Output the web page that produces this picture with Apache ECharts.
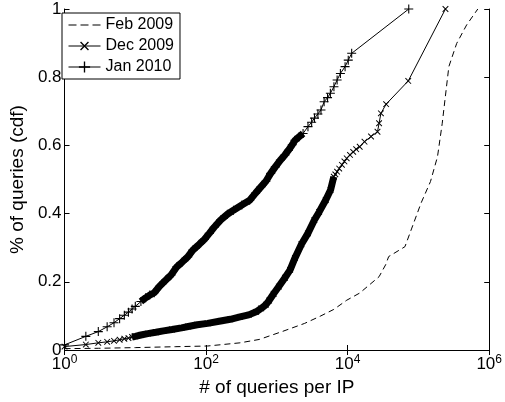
<!DOCTYPE html>
<html>
<head>
<meta charset="utf-8">
<script src="https://cdn.jsdelivr.net/npm/echarts@6/dist/echarts.min.js"></script>
<style>
  html, body { margin: 0; padding: 0; background: #fff; }
  #chart { width: 505px; height: 402px; }
</style>
</head>
<body>
<div id="chart"></div>
<script>
// values (x = queries per IP, y = cdf)
const febX = [1, 3, 10, 36.6, 105, 301, 566, 1183, 2466, 4180, 6370, 9710, 14800, 27800, 34400, 38000, 64500, 79800, 109000, 148000, 186000, 217000, 240000, 269000, 347000, 479000, 690000];
const febY = [0.004, 0.005, 0.007, 0.0097, 0.0117, 0.021, 0.031, 0.054, 0.078, 0.100, 0.119, 0.146, 0.167, 0.215, 0.25, 0.274, 0.303, 0.355, 0.431, 0.494, 0.567, 0.665, 0.743, 0.831, 0.899, 0.953, 1.0];

const decX = [1, 2, 3, 4, 5, 6, 7, 8, 9, 10, 12, 15, 19.5, 25, 33, 45, 56, 75, 105, 160, 220, 301, 400, 510, 600, 700, 776, 900, 1065, 1300, 1538, 1803, 2223, 2743, 3388, 3960, 4900, 5730, 6370, 6700, 7090, 7600, 8300, 9000, 9700, 10800, 11970, 13200, 14800, 17300, 21400, 26400, 27800, 29500, 35000, 71800, 241000];
const decY = [0.010, 0.016, 0.021, 0.024, 0.027, 0.030, 0.033, 0.035, 0.038, 0.040, 0.044, 0.048, 0.052, 0.056, 0.060, 0.065, 0.069, 0.074, 0.078, 0.085, 0.090, 0.097, 0.103, 0.112, 0.122, 0.133, 0.145, 0.165, 0.186, 0.212, 0.235, 0.270, 0.310, 0.342, 0.381, 0.405, 0.440, 0.469, 0.508, 0.515, 0.523, 0.532, 0.543, 0.553, 0.562, 0.572, 0.581, 0.589, 0.596, 0.611, 0.626, 0.640, 0.665, 0.694, 0.721, 0.789, 1.0];

const janX = [1, 2, 3, 4, 5, 6, 7, 8, 9, 10, 12, 14, 16, 18.5, 22, 27, 32, 38.6, 46, 55, 65, 80, 95, 111, 130, 160, 200, 244, 320, 413, 500, 600, 700, 818, 950, 1122, 1300, 1459, 1650, 1802, 2050, 2345, 2750, 3100, 3400, 3800, 4200, 4650, 5200, 5700, 6400, 7100, 7900, 9200, 10200, 11400, 73000];
const janY = [0.015, 0.040, 0.054, 0.068, 0.080, 0.092, 0.102, 0.111, 0.120, 0.128, 0.142, 0.153, 0.161, 0.168, 0.187, 0.205, 0.220, 0.244, 0.258, 0.273, 0.293, 0.310, 0.325, 0.342, 0.360, 0.381, 0.398, 0.410, 0.425, 0.439, 0.460, 0.479, 0.495, 0.518, 0.537, 0.557, 0.572, 0.586, 0.602, 0.615, 0.625, 0.635, 0.655, 0.668, 0.680, 0.692, 0.704, 0.728, 0.740, 0.753, 0.772, 0.792, 0.811, 0.831, 0.850, 0.870, 1.0];

// x-ranges where the markers pile up into a solid band
const decDense = [9, 6370];
const janDense = [12, 2345];

const names = ['Feb 2009', 'Dec 2009', 'Jan 2010'];

function pairs(xs, ys) { return xs.map((x, i) => [x, ys[i]]); }
function within(xs, ys, r) { return pairs(xs, ys).filter(p => p[0] >= r[0] && p[0] <= r[1]); }

const font = 'Liberation Sans, Arial, Helvetica, sans-serif';
const plus = 'path://M0,4.4H10V5.6H0Z M4.4,0H5.6V10H4.4Z';
const dashIcon = 'path://M0,0H8V1H0Z M12,0H20V1H12Z M24,0H32V1H24Z';

let myChart = echarts.init(document.getElementById('chart'));

const boxAxis = {
    axisLine: { show: true, lineStyle: { color: '#000', width: 1 } },
    axisTick: { show: true, inside: true, length: 5, lineStyle: { color: '#000' } },
    splitLine: { show: false }
};

myChart.setOption({
    animation: false,
    backgroundColor: '#fff',
    grid: { left: 56, right: 12, top: 9, bottom: 52 },
    legend: {
        data: [{ name: names[0], icon: dashIcon }, names[1], names[2]],
        orient: 'vertical',
        left: 62, top: 13,
        padding: [4, 6, 4, 6],
        itemGap: 5,
        itemWidth: 32,
        itemHeight: 14,
        borderColor: '#000',
        borderWidth: 1,
        backgroundColor: '#fff',
        lineStyle: { width: 1 },
        textStyle: { fontFamily: font, fontSize: 16, lineHeight: 16, color: '#000' }
    },
    xAxis: [
        Object.assign({}, boxAxis, {
            type: 'log', logBase: 100, min: 1, max: 1e6,
            position: 'bottom',
            name: '# of queries per IP',
            nameLocation: 'middle',
            nameGap: 19,
            nameTextStyle: { fontFamily: font, fontSize: 19, color: '#000' },
            axisLabel: {
                margin: 4,
                formatter: v => '{b|10}{s|' + Math.round(Math.log10(v)) + '}',
                rich: {
                    b: { fontFamily: font, fontSize: 17, color: '#000' },
                    s: { fontFamily: font, fontSize: 12, color: '#000', verticalAlign: 'bottom', padding: [0, 0, 9, 0] }
                }
            }
        }),
        Object.assign({}, boxAxis, {
            type: 'log', logBase: 100, min: 1, max: 1e6,
            position: 'top',
            axisLabel: { show: false }
        })
    ],
    yAxis: [
        Object.assign({}, boxAxis, {
            type: 'value', min: 0, max: 1, interval: 0.2,
            position: 'left',
            name: '% of queries (cdf)',
            nameLocation: 'middle',
            nameGap: 31,
            nameTextStyle: { fontFamily: font, fontSize: 19, color: '#000' },
            axisLabel: { margin: 3, fontFamily: font, fontSize: 17, color: '#000' }
        }),
        Object.assign({}, boxAxis, {
            type: 'value', min: 0, max: 1, interval: 0.2,
            position: 'right',
            axisLabel: { show: false }
        })
    ],
    series: [
        {
            name: 'Feb 2009', type: 'line',
            data: pairs(febX, febY),
            symbol: 'none',
            itemStyle: { color: '#000' },
            lineStyle: { color: '#000', width: 1, type: [6, 4] }
        },
        {
            name: 'decBand', type: 'line', silent: true,
            data: within(decX, decY, decDense),
            symbol: 'none',
            lineStyle: { color: '#000', width: 7 }
        },
        {
            name: 'janBand', type: 'line', silent: true,
            data: within(janX, janY, janDense),
            symbol: 'none',
            lineStyle: { color: '#000', width: 7 }
        },
        {
            name: 'Dec 2009', type: 'line',
            data: pairs(decX, decY),
            symbol: plus, symbolSize: 8, symbolRotate: 45, showAllSymbol: true,
            itemStyle: { color: '#000', borderWidth: 0 },
            lineStyle: { color: '#000', width: 1 }
        },
        {
            name: 'Jan 2010', type: 'line',
            data: pairs(janX, janY),
            symbol: plus, symbolSize: 9, showAllSymbol: true,
            itemStyle: { color: '#000', borderWidth: 0 },
            lineStyle: { color: '#000', width: 1 }
        }
    ]
});
</script>
</body>
</html>
